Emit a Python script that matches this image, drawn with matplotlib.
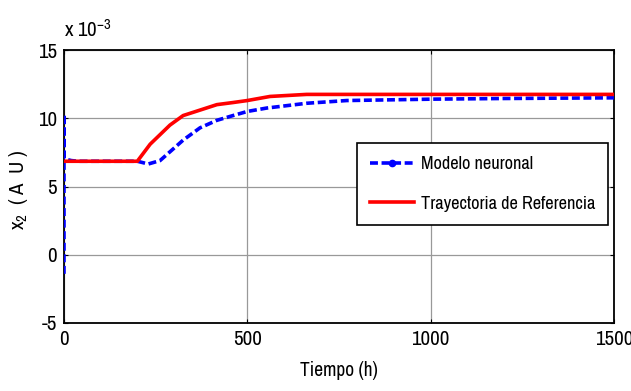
import matplotlib
matplotlib.use("Agg")
import matplotlib.pyplot as plt
from matplotlib.lines import Line2D
from matplotlib import font_manager

names = {f.name for f in font_manager.fontManager.ttflist}
fam = 'Liberation Sans'
for cand in ['Liberation Sans Narrow', 'Archivo Narrow', 'Barlow Condensed']:
    if cand in names:
        fam = cand
        break
plt.rcParams['font.family'] = [fam, 'DejaVu Sans']
plt.rcParams['axes.unicode_minus'] = False
plt.rcParams['mathtext.fontset'] = 'custom'
plt.rcParams['mathtext.rm'] = fam
plt.rcParams['mathtext.it'] = fam

# Time (h)
t_ref = [0, 200, 235, 289, 325, 371, 417, 460, 500, 562, 662, 800, 1000, 1200, 1500]
x2_ref = [6.85, 6.85, 8.1, 9.5, 10.2, 10.6, 11.0, 11.15, 11.3, 11.6, 11.75, 11.75, 11.75, 11.75, 11.75]

t_nn = [0, 0, 0, 5, 20, 40, 200, 230, 262, 325, 371, 417, 461, 500, 553, 662, 771, 1000, 1200, 1500]
x2_nn = [-1.4, 10.3, 7.1, 7.0, 6.9, 6.85, 6.85, 6.65, 6.9, 8.4, 9.3, 9.85, 10.2, 10.5, 10.75, 11.1, 11.3, 11.4, 11.45, 11.5]

fig = plt.figure(figsize=(6.31, 3.91), dpi=100)
ax = fig.add_axes([0.1014, 0.174, 0.8716, 0.698])

ax.plot(t_nn, x2_nn, color='#0000ff', lw=2.6, ls=(0, (2.2, 1.0)), zorder=3)
ax.plot(t_ref, x2_ref, color='#ff0000', lw=2.6, zorder=4)

ax.set_xlim(0, 1500)
ax.set_ylim(-5, 15)
ax.set_xticks([0, 500, 1000, 1500])
ax.set_yticks([-5, 0, 5, 10, 15])
ax.grid(True, color='#999999', lw=0.9)
ax.set_axisbelow(True)
ax.tick_params(direction='in', length=3, labelsize=15, top=True, right=True, pad=5)
for s in ax.spines.values():
    s.set_linewidth(1.3)

ax.set_xlabel('Tiempo (h)', fontsize=14, labelpad=9)
fig.text(18 / 631, 1 - 190 / 391, 'x$_2$  ( A  U )', fontsize=15, rotation=90,
         ha='center', va='center')
ax.text(0.0, 1.035, r'x 10$^{-3}$', transform=ax.transAxes, fontsize=15, va='bottom', ha='left')

handles = [Line2D([], [], color='#0000ff', lw=2.6, ls=(0, (2.2, 1.0)), marker='.', markersize=9),
           Line2D([], [], color='#ff0000', lw=2.6)]
leg = ax.legend(handles, ['Modelo neuronal', 'Trayectoria de Referencia'],
                loc='upper left', bbox_to_anchor=(0.533, 0.659), fontsize=13.2,
                fancybox=False, framealpha=1, edgecolor='black', handlelength=2.4,
                borderpad=0.7, labelspacing=1.3, handletextpad=0.4, borderaxespad=0)
leg.get_frame().set_linewidth(1.2)

fig.savefig('out.png', dpi=100)
